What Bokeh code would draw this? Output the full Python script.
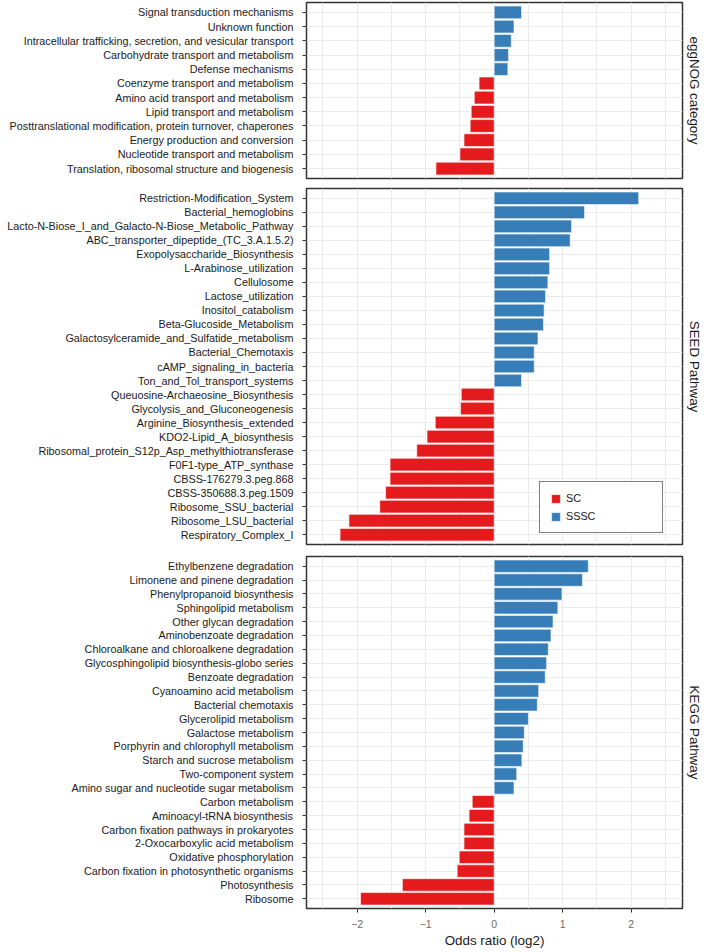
from bokeh.plotting import figure
from bokeh.layouts import column
from bokeh.models import (FactorRange, Range1d, FixedTicker, Legend, LegendItem,
                          ColumnDataSource, Grid)
from bokeh.embed import file_html
from bokeh.resources import INLINE

# ---------------- data ----------------
egg_terms = ["Signal transduction mechanisms", "Unknown function",
             "Intracellular trafficking, secretion, and vesicular transport",
             "Carbohydrate transport and metabolism", "Defense mechanisms",
             "Coenzyme transport and metabolism", "Amino acid transport and metabolism",
             "Lipid transport and metabolism",
             "Posttranslational modification, protein turnover, chaperones",
             "Energy production and conversion", "Nucleotide transport and metabolism",
             "Translation, ribosomal structure and biogenesis"]
egg_values = [0.40, 0.29, 0.25, 0.21, 0.20, -0.22, -0.29, -0.335, -0.35, -0.44, -0.50, -0.85]

seed_terms = ["Restriction-Modification_System", "Bacterial_hemoglobins",
              "Lacto-N-Biose_I_and_Galacto-N-Biose_Metabolic_Pathway",
              "ABC_transporter_dipeptide_(TC_3.A.1.5.2)", "Exopolysaccharide_Biosynthesis",
              "L-Arabinose_utilization", "Cellulosome", "Lactose_utilization",
              "Inositol_catabolism", "Beta-Glucoside_Metabolism",
              "Galactosylceramide_and_Sulfatide_metabolism", "Bacterial_Chemotaxis",
              "cAMP_signaling_in_bacteria", "Ton_and_Tol_transport_systems",
              "Queuosine-Archaeosine_Biosynthesis", "Glycolysis_and_Gluconeogenesis",
              "Arginine_Biosynthesis_extended", "KDO2-Lipid_A_biosynthesis",
              "Ribosomal_protein_S12p_Asp_methylthiotransferase", "F0F1-type_ATP_synthase",
              "CBSS-176279.3.peg.868", "CBSS-350688.3.peg.1509", "Ribosome_SSU_bacterial",
              "Ribosome_LSU_bacterial", "Respiratory_Complex_I"]
seed_values = [2.11, 1.32, 1.13, 1.11, 0.81, 0.81, 0.785, 0.75, 0.73, 0.72, 0.64, 0.585,
               0.585, 0.40, -0.48, -0.49, -0.86, -0.98, -1.13, -1.52, -1.52, -1.585, -1.67,
               -2.12, -2.25]

kegg_terms = ["Ethylbenzene degradation", "Limonene and pinene degradation",
              "Phenylpropanoid biosynthesis", "Sphingolipid metabolism",
              "Other glycan degradation", "Aminobenzoate degradation",
              "Chloroalkane and chloroalkene degradation",
              "Glycosphingolipid biosynthesis-globo series", "Benzoate degradation",
              "Cyanoamino acid metabolism", "Bacterial chemotaxis", "Glycerolipid metabolism",
              "Galactose metabolism", "Porphyrin and chlorophyll metabolism",
              "Starch and sucrose metabolism", "Two-component system",
              "Amino sugar and nucleotide sugar metabolism", "Carbon metabolism",
              "Aminoacyl-tRNA biosynthesis", "Carbon fixation pathways in prokaryotes",
              "2-Oxocarboxylic acid metabolism", "Oxidative phosphorylation",
              "Carbon fixation in photosynthetic organisms", "Photosynthesis", "Ribosome"]
kegg_values = [1.375, 1.29, 0.99, 0.93, 0.86, 0.83, 0.79, 0.766, 0.746, 0.65, 0.63, 0.50,
               0.44, 0.425, 0.405, 0.33, 0.29, -0.32, -0.366, -0.44, -0.44, -0.51, -0.54,
               -1.34, -1.95]

strip_labels = ["eggNOG category", "SEED Pathway", "KEGG Pathway"]
group_names = ["SC", "SSSC"]
group_colors = ["#E41A1C", "#377EB8"]
x_ticks = [-2, -1, 0, 1, 2]
x_tick_labels = ["\u22122", "\u22121", "0", "1", "2"]
x_minor = [-2.5, -1.5, -0.5, 0.5, 1.5, 2.5]
x_title = "Odds ratio (log2)"

FONT = "Liberation Sans"
GRID = "#EBEBEB"


def make_panel(terms, values, strip, height, top, bottom, show_x):
    yr = FactorRange(factors=list(reversed(terms)), range_padding=0.2,
                     range_padding_units="absolute")
    p = figure(y_range=yr, x_range=Range1d(-2.74, 2.75), width=709, height=height,
               output_backend="svg", toolbar_location=None,
               x_axis_location="below" if show_x else None,
               min_border_left=306, min_border_right=27,
               min_border_top=top, min_border_bottom=bottom,
               title=strip, title_location="right")
    p.title.align = "center"
    p.title.standoff = 8
    p.title.text_font = FONT
    p.title.text_font_size = "13.4px"
    p.title.text_font_style = "normal"
    p.title.text_color = "#1a1a1a"
    p.background_fill_color = "white"
    p.border_fill_color = "white"
    p.outline_line_color = "#333333"
    p.outline_line_width = 1.5

    # grids
    p.xgrid.visible = False
    p.add_layout(Grid(dimension=0, ticker=FixedTicker(ticks=x_ticks, minor_ticks=x_minor),
                      grid_line_color=GRID, grid_line_width=1.1,
                      minor_grid_line_color=GRID, minor_grid_line_width=1.1))
    p.ygrid.grid_line_color = GRID
    p.ygrid.grid_line_width = 1.1

    # y axis
    ya = p.yaxis[0]
    ya.axis_line_color = None
    ya.major_tick_out = 4
    ya.major_tick_in = 0
    ya.major_tick_line_color = "#333333"
    ya.major_label_standoff = 9
    ya.major_label_text_font = FONT
    ya.major_label_text_font_size = "10.8px"
    ya.major_label_text_color = "#1a1a1a"

    if show_x:
        xa = p.xaxis[0]
        xa.ticker = FixedTicker(ticks=x_ticks)
        xa.major_label_overrides = {t: l for t, l in zip(x_ticks, x_tick_labels)}
        xa.axis_line_color = None
        xa.major_tick_out = 4
        xa.major_tick_in = 0
        xa.minor_tick_out = 0
        xa.minor_tick_in = 0
        xa.major_tick_line_color = "#333333"
        xa.major_label_standoff = 7
        xa.major_label_text_font = FONT
        xa.major_label_text_font_size = "10.5px"
        xa.major_label_text_color = "#6b6b6b"
        xa.axis_label = x_title
        xa.axis_label_text_font = FONT
        xa.axis_label_text_font_size = "13.4px"
        xa.axis_label_text_font_style = "normal"
        xa.axis_label_text_color = "#1a1a1a"
        xa.axis_label_standoff = 2

    renderers = []
    for gi, (gname, gcol) in enumerate(zip(group_names, group_colors)):
        ys = [t for t, v in zip(terms, values) if (v > 0) == (gi == 1)]
        xs = [v for v in values if (v > 0) == (gi == 1)]
        src = ColumnDataSource(dict(y=ys, right=xs))
        r = p.hbar(y="y", right="right", left=0, height=0.9, source=src,
                   fill_color=gcol, line_color="white", line_width=0.6)
        renderers.append(r)
    return p, renderers


p1, _ = make_panel(egg_terms, egg_values, strip_labels[0], 2 + 176 + 5, 2, 5, False)
p2, rr = make_panel(seed_terms, seed_values, strip_labels[1], 5 + 356 + 6, 5, 6, False)
p3, _ = make_panel(kegg_terms, kegg_values, strip_labels[2], 6 + 352 + 43, 6, 43, True)

legend = Legend(items=[LegendItem(label=group_names[0], renderers=[rr[0]]),
                       LegendItem(label=group_names[1], renderers=[rr[1]])],
                location=(233, 11), orientation="vertical",
                border_line_color="black", border_line_width=1,
                background_fill_color="white", background_fill_alpha=1.0,
                padding=10, margin=0, spacing=6,
                glyph_width=11, glyph_height=11, label_height=11, label_width=86,
                label_standoff=5, label_text_font=FONT, label_text_font_size="10.8px",
                label_text_color="#1a1a1a")
p2.add_layout(legend)

layout = column(p1, p2, p3, spacing=0)
open("out.html", "w").write(file_html(layout, INLINE))
